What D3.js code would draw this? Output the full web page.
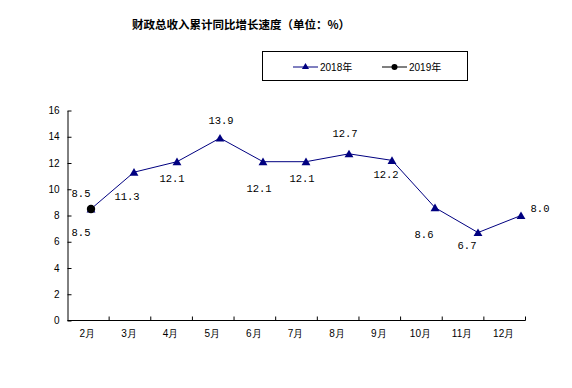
<!DOCTYPE html>
<html>
<head>
<meta charset="utf-8">
<script src="https://cdn.jsdelivr.net/npm/d3@7"></script>
<style>
  body { margin: 0; background: #fff; }
  svg { display: block; }
  .axis text { font-family: "Liberation Sans", Arial, sans-serif; font-size: 10px; fill: #000; }
  .axis path, .axis line { stroke: #000; }
  .val { font-family: "Liberation Mono", "DejaVu Sans Mono", monospace; font-size: 10.5px; fill: #000; }
</style>
</head>
<body>
<div id="chart"></div>
<script>
// months on the category axis
const months = ["2月", "3月", "4月", "5月", "6月", "7月", "8月", "9月", "10月", "11月", "12月"];
// cumulative y/y growth, %
const values2018 = [8.5, 11.3, 12.1, 13.9, 12.1, 12.1, 12.7, 12.2, 8.6, 6.7, 8.0];
const values2019 = [8.5];
const yTicks = [0, 2, 4, 6, 8, 10, 12, 14, 16];

// where each value label sits relative to its marker
const labelPos2018 = [[-10, 27], [-7, 28], [-5, 20], [1, -14], [-4, 30], [-4, 20], [-4, -17], [-6, 18], [-11, 30], [-11, 16], [19, -4]];
const labelPos2019 = [[-10, -12]];

const width = 572, height = 388;
const svg = d3.select("#chart").append("svg")
    .attr("width", width)
    .attr("height", height);

svg.append("rect").attr("width", width).attr("height", height).attr("fill", "#fff");

// title
svg.append("text")
    .attr("x", 241).attr("y", 29)
    .attr("text-anchor", "middle")
    .style("font-family", "'Noto Sans CJK SC', sans-serif")
    .style("font-size", "11.5px")
    .style("font-weight", "bold")
    .text("财政总收入累计同比增长速度（单位：%）");

// scales
const plotLeft = 67.5, plotRight = 525.5, plotTop = 110.5, plotBottom = 320.5;
const x = d3.scaleBand().domain(months).range([plotLeft, plotRight]);
// the plotted line sits a bit offset from the category centres in the original
const xLine = d3.scalePoint().domain(months).range([91, 521]);
const y = d3.scaleLinear().domain([0, 16]).range([plotBottom, plotTop]);

// y axis
svg.append("g")
    .attr("class", "axis")
    .attr("transform", `translate(${plotLeft},0)`)
    .call(d3.axisLeft(y).tickValues(yTicks).tickSize(-4).tickPadding(8).tickSizeOuter(0));

// x axis: line, labels and ticks on the category boundaries
const xg = svg.append("g")
    .attr("class", "axis")
    .attr("transform", `translate(0,${plotBottom})`)
    .call(d3.axisBottom(x).tickSize(0).tickPadding(9).tickSizeOuter(0));
xg.select(".domain").attr("d", `M${plotLeft},0H${plotRight}`);
xg.selectAll(".tick text").attr("dx", "-1");
const bounds = months.map(m => x(m) + x.bandwidth());
xg.selectAll(".bound").data(bounds).join("line")
    .attr("class", "bound")
    .attr("x1", d => d).attr("x2", d => d)
    .attr("y1", 0).attr("y2", -4)
    .attr("stroke", "#000");

// 2018 line
const data2018 = months.map((m, i) => ({ m, v: values2018[i], pos: labelPos2018[i] }));
const line = d3.line().x(d => xLine(d.m)).y(d => y(d.v));
svg.append("path")
    .datum(data2018)
    .attr("d", line)
    .attr("fill", "none")
    .attr("stroke", "#000080")
    .attr("stroke-width", 1);

const tri = d3.symbol().type(d3.symbolTriangle).size(34);
svg.selectAll(".tri").data(data2018).join("path")
    .attr("class", "tri")
    .attr("d", tri)
    .attr("fill", "#000080")
    .attr("transform", d => `translate(${xLine(d.m)},${y(d.v) + 1})`);

// 2019 point
const data2019 = values2019.map((v, i) => ({ m: months[i], v, pos: labelPos2019[i] }));
svg.selectAll(".dot").data(data2019).join("circle")
    .attr("class", "dot")
    .attr("cx", d => xLine(d.m))
    .attr("cy", d => y(d.v))
    .attr("r", 4.2)
    .attr("fill", "#000");

// value labels
svg.selectAll(".val").data(data2018.concat(data2019)).join("text")
    .attr("class", "val")
    .attr("text-anchor", "middle")
    .attr("x", d => xLine(d.m) + d.pos[0])
    .attr("y", d => y(d.v) + d.pos[1])
    .text(d => d.v.toFixed(1));

// legend
const lg = svg.append("g");
lg.append("rect")
    .attr("x", 262.5).attr("y", 51.5)
    .attr("width", 205).attr("height", 29)
    .attr("fill", "#fff").attr("stroke", "#000");

const legendItems = [
    { name: "2018年", color: "#000080", shape: "tri", x0: 293 },
    { name: "2019年", color: "#000", shape: "dot", x0: 382 }
];
legendItems.forEach(it => {
    const g = lg.append("g").attr("transform", `translate(${it.x0},67)`);
    g.append("line").attr("x1", 0).attr("x2", 25).attr("stroke", it.color);
    if (it.shape === "tri") {
        g.append("path").attr("d", d3.symbol().type(d3.symbolTriangle).size(22)())
            .attr("transform", "translate(12.5,0)").attr("fill", it.color);
    } else {
        g.append("circle").attr("cx", 12.5).attr("r", 3).attr("fill", it.color);
    }
    g.append("text")
        .attr("x", 27).attr("y", 4)
        .style("font-family", "'Liberation Sans', 'Noto Sans CJK SC', sans-serif")
        .style("font-size", "10px")
        .text(it.name);
});
</script>
</body>
</html>
